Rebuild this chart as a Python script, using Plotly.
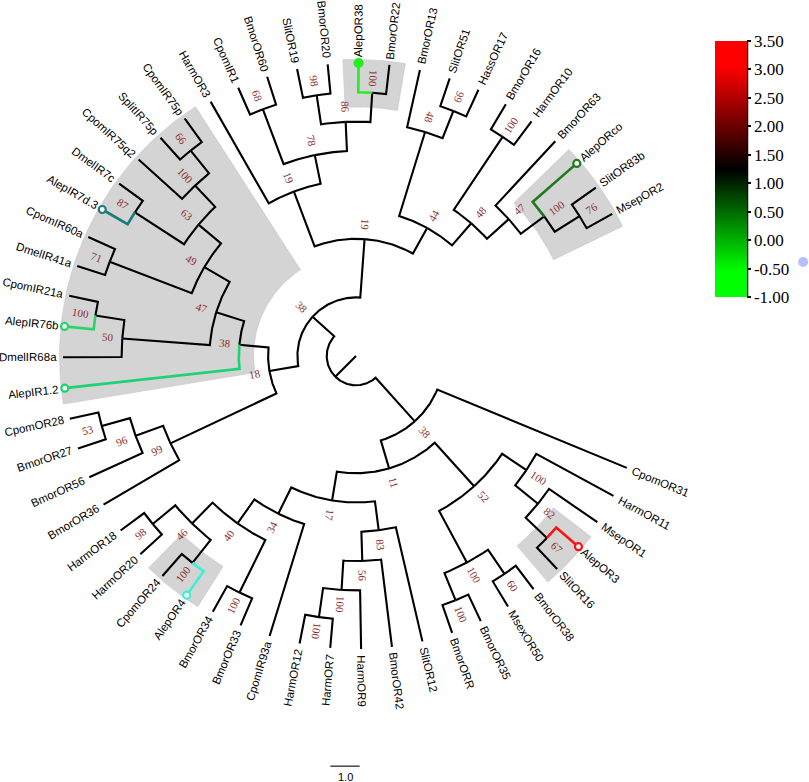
import numpy as np
import plotly.graph_objects as go

# tips, counter-clockwise, starting just above the gap on the right
leaves = ["MsepOR2", "SlitOR83b", "AlepORco", "BmorOR63", "HarmOR10", "BmorOR16",
          "HassOR17", "SlitOR51", "BmorOR13", "BmorOR22", "AlepOR38", "BmorOR20",
          "SlitOR19", "BmorOR60", "CpomIR1", "HarmOR3", "CpomIR75p", "SplitIR75p",
          "CpomIR75q2", "DmelIR7c", "AlepIR7d.3", "CpomIR60a", "DmelIR41a", "CpomIR21a",
          "AlepIR76b", "DmelIR68a", "AlepIR1.2", "CpomOR28", "BmorOR27", "BmorOR56",
          "BmorOR36", "HarmOR18", "HarmOR20", "CpomOR24", "AlepOR4", "BmorOR34",
          "BmorOR33", "CpomIR93a", "HarmOR12", "HarmOR7", "HarmOR9", "BmorOR42",
          "SlitOR12", "BmorORR", "BmorOR35", "MsexOR50", "BmorOR38", "SlitOR16",
          "AlepOR3", "MsepOR1", "HarmOR11", "CpomOR31"]
leaf_r = 10.0

# internal nodes: children (ccw order), radius, bootstrap
node_ids = ["root", "A", "B", "N18", "N19a", "IR38", "B1",
            "N44", "N47", "N17",
            "N19b", "N48b", "N49", "N52", "N83", "N34",
            "N78", "N47b", "N63", "N99b", "N100i", "N56", "N40",
            "N86", "N48a", "N100e", "N100b", "N50", "N96", "N100h", "N82", "N100f", "N46",
            "N68", "N98", "N100c", "N99", "N100d", "N76", "N66", "N87", "N71",
            "N100a", "N53", "N98b", "N100l", "N100k", "N100g", "N100j", "N60", "N67"]
node_kids = [["A", "B"], ["N19a", "N18"], ["B1", "CpomOR31"], ["IR38", "N99b"],
             ["N44", "N19b"], ["N47", "AlepIR1.2"], ["N17", "N52"],
             ["N48b", "N48a"], ["N49", "N50"], ["N34", "N83"],
             ["N78", "HarmOR3"], ["N47b", "N100d"], ["N63", "N71"], ["N100h", "N100i"],
             ["N56", "SlitOR12"], ["N40", "CpomIR93a"],
             ["N86", "N68"], ["N100e", "BmorOR63"], ["N100b", "N87"], ["N96", "BmorOR36"],
             ["N82", "HarmOR11"], ["N100f", "BmorOR42"], ["N46", "N100k"],
             ["N100c", "N98"], ["N99", "BmorOR13"], ["N76", "AlepORco"], ["N66", "CpomIR75q2"],
             ["N100a", "DmelIR68a"], ["N53", "BmorOR56"], ["N100j", "N60"], ["N67", "MsepOR1"],
             ["N100g", "HarmOR9"], ["N98b", "N100l"],
             ["BmorOR60", "CpomIR1"], ["BmorOR20", "SlitOR19"], ["BmorOR22", "AlepOR38"],
             ["HassOR17", "SlitOR51"], ["HarmOR10", "BmorOR16"], ["MsepOR2", "SlitOR83b"],
             ["CpomIR75p", "SplitIR75p"], ["DmelIR7c", "AlepIR7d.3"], ["CpomIR60a", "DmelIR41a"],
             ["CpomIR21a", "AlepIR76b"], ["CpomOR28", "BmorOR27"], ["HarmOR18", "HarmOR20"],
             ["CpomOR24", "AlepOR4"], ["BmorOR34", "BmorOR33"], ["HarmOR12", "HarmOR7"],
             ["BmorORR", "BmorOR35"], ["MsexOR50", "BmorOR38"], ["SlitOR16", "AlepOR3"]]
node_r = [1, 2, 3, 3, 4, 4, 4,
          5, 5, 5,
          6, 6, 6, 6, 6, 6,
          7, 7, 7, 7, 7, 7, 7,
          8, 8, 8, 8, 8, 8, 8, 8, 8, 8,
          9, 9, 9, 9, 9, 9, 9, 9, 9, 9, 9, 9, 9, 9, 9, 9, 9, 9]
node_bs = [None, 38, 38, 18, 19, 38, 11,
           44, 47, 17,
           19, 48, 49, 52, 83, 34,
           78, 47, 63, 99, 100, 56, 40,
           86, 48, 100, 100, 50, 96, 100, 82, 100, 46,
           68, 98, 100, 99, 100, 76, 66, 87, 71, 100, 53, 98, 100, 100, 100, 100, 60, 67]

# highlighted Alep genes (branch colour, open tip marker?)
hl_leaves = ["AlepIR1.2", "AlepIR76b", "AlepIR7d.3", "AlepOR38", "AlepORco", "AlepOR3", "AlepOR4"]
hl_colors = ["#1ed173", "#2bd46a", "#1c7b78", "#22ee22", "#1f7a1f", "#ff1010", "#3ff0d2"]
hl_open = [True, True, True, False, True, True, True]

shaded = ["IR38", "N100c", "N100e", "N67", "N100l"]

cbar_ticks = [3.5, 3.0, 2.5, 2.0, 1.5, 1.0, 0.5, 0.0, -0.5, -1.0]
stray_x = [15.26]
stray_y = [3.21]

START = 29.0   # angle of first tip (deg)
STEP = 6.05    # angular spacing of tips
PX = 29.3      # pixels per unit
W, H = 809, 782
CX, CY = 356, 356  # tree centre in pixels

# ---- layout of the tree
ang = {n: START + i * STEP for i, n in enumerate(leaves)}
rad = {n: leaf_r for n in leaves}
kids = dict(zip(node_ids, node_kids))
rad.update(dict(zip(node_ids, node_r)))


def get_ang(n):
    if n not in ang:
        a = [get_ang(c) for c in kids[n]]
        ang[n] = (a[0] + a[-1]) / 2
    return ang[n]


get_ang("root")


def xy(r, a):
    t = np.radians(a)
    return r * np.cos(t), r * np.sin(t)


def tips_under(n):
    if n not in kids:
        return [n]
    out = []
    for c in kids[n]:
        out += tips_under(c)
    return out


def branch(p, c):
    a0, a1 = ang[p], ang[c]
    k = max(2, int(abs(a1 - a0) * 2) + 2)
    x, y = xy(rad[p], np.linspace(a0, a1, k))
    xe, ye = xy(rad[c], a1)
    return list(x) + [xe], list(y) + [ye]


fig = go.Figure()

# grey boxes behind some clades
for n in shaded:
    aa = [ang[t] for t in tips_under(n)]
    a0, a1 = min(aa) - STEP / 2, max(aa) + STEP / 2
    arc = np.linspace(a0, a1, 60)
    xo, yo = xy(leaf_r + 0.12, arc)
    xi, yi = xy(rad[n] - 0.5, arc[::-1])
    fig.add_trace(go.Scatter(x=list(xo) + list(xi) + [xo[0]], y=list(yo) + list(yi) + [yo[0]],
                             mode="lines", fill="toself", fillcolor="#d4d4d4",
                             line=dict(width=0.6, color="#c4c4c4"), hoverinfo="skip", showlegend=False))

# black branches
bx, by = [], []
x0, y0 = xy(rad["root"], ang["root"])
bx += [0, x0, None]
by += [0, y0, None]
for p in node_ids:
    for c in kids[p]:
        if c in hl_leaves:
            continue
        x, y = branch(p, c)
        bx += x + [None]
        by += y + [None]
fig.add_trace(go.Scatter(x=bx, y=by, mode="lines", line=dict(color="black", width=2.1),
                         hoverinfo="skip", showlegend=False))

# coloured branches + tip circles
parent = {c: p for p in node_ids for c in kids[p]}
for leaf, col, op in zip(hl_leaves, hl_colors, hl_open):
    x, y = branch(parent[leaf], leaf)
    fig.add_trace(go.Scatter(x=x, y=y, mode="lines", line=dict(color=col, width=2.6),
                             hoverinfo="skip", showlegend=False))
    mk = dict(symbol="circle", size=7 if op else 8,
              color="white" if op else col, line=dict(width=2.2, color=col))
    fig.add_trace(go.Scatter(x=[x[-1]], y=[y[-1]], mode="markers", marker=mk,
                             hoverinfo="skip", showlegend=False))

# text widths (Arial metrics) so rotated labels can be centred
ARIAL = {'A': 667, 'B': 667, 'C': 722, 'D': 722, 'H': 722, 'I': 278, 'M': 833, 'O': 778,
         'R': 722, 'S': 667, 'a': 556, 'b': 556, 'c': 500, 'd': 556, 'e': 556, 'i': 222,
         'l': 222, 'm': 833, 'o': 556, 'p': 556, 'q': 556, 'r': 333, 's': 500, 't': 278,
         'x': 500, '.': 278}
LEAF_FS = 11.5
SANS = "Arial, Liberation Sans, sans-serif"
SERIF = "Times New Roman, Liberation Serif, serif"


def text_w(s):
    return sum(ARIAL.get(ch, 556) for ch in s) * LEAF_FS / 1000.0


def norm(a):
    return ((a + 180) % 360) - 180


for leaf in leaves:
    a = ang[leaf]
    rot = 180 - a if 90 < a < 270 else -a
    rc = leaf_r + (6 + text_w(leaf) / 2) / PX
    x, y = xy(rc, a)
    fig.add_annotation(x=x, y=y, text=leaf, showarrow=False, textangle=norm(rot),
                       xanchor="center", yanchor="middle", borderpad=0,
                       font=dict(family=SANS, size=LEAF_FS, color="black"))

for n, bs in zip(node_ids, node_bs):
    if bs is None:
        continue
    a = ang[n]
    rot = 180 - a if 65 < a < 250 else -a
    x, y = xy(rad[n] + 0.5, a)
    fig.add_annotation(x=x, y=y, text=str(bs), showarrow=False, textangle=norm(rot),
                       xanchor="center", yanchor="middle", borderpad=0,
                       font=dict(family=SERIF, size=11, color="#8b2f2f"))

# scale bar
sb_len = 1.0
sb_x = -0.375
sb_y = -14.0
fig.add_trace(go.Scatter(x=[sb_x - sb_len / 2, sb_x + sb_len / 2], y=[sb_y, sb_y], mode="lines",
                         line=dict(color="#444444", width=1.5), hoverinfo="skip", showlegend=False))
fig.add_annotation(x=sb_x, y=sb_y - 0.38, text="1.0", showarrow=False,
                   font=dict(family=SANS, size=11, color="black"))

# colour bar (expression scale)
cscale = [[0, "#00ff00"], [0.1, "#00ff00"], [0.5, "#000000"], [0.9, "#ff0000"], [1, "#ff0000"]]
cbar = dict(x=715 / W, xanchor="left", y=1 - 169 / H, yanchor="middle",
            thickness=32, thicknessmode="pixels", len=256, lenmode="pixels",
            xpad=0, ypad=0, outlinewidth=0,
            tickmode="array", tickvals=cbar_ticks, ticktext=["%.2f" % v for v in cbar_ticks],
            ticks="outside", ticklen=4, tickwidth=1.5, tickcolor="black",
            tickfont=dict(family=SERIF, size=17, color="black"))
fig.add_trace(go.Scatter(x=[None], y=[None], mode="markers", hoverinfo="skip", showlegend=False,
                         marker=dict(color=[0], cmin=-1, cmax=3.5, showscale=True,
                                     colorscale=cscale, colorbar=cbar)))
fig.add_shape(type="line", xref="paper", yref="paper", x0=747.5 / W, x1=747.5 / W,
              y0=1 - 297 / H, y1=1 - 41 / H, line=dict(color="black", width=1.5))

# the faint dot at the right edge
fig.add_trace(go.Scatter(x=stray_x, y=stray_y, mode="markers", hoverinfo="skip", showlegend=False,
                         marker=dict(size=10, color="#636efa", opacity=0.45)))

fig.update_xaxes(visible=False, range=[-CX / PX, (W - CX) / PX], fixedrange=True)
fig.update_yaxes(visible=False, range=[-(H - CY) / PX, CY / PX], fixedrange=True)
fig.update_layout(width=W, height=H, margin=dict(l=0, r=0, t=0, b=0, pad=0),
                  plot_bgcolor="white", paper_bgcolor="white", showlegend=False)

# page body has an 8px default margin, drop it so the figure sits at 0,0
fig.write_html("out.html", config={"displayModeBar": False},
               post_script="document.body.style.margin='0px';")
